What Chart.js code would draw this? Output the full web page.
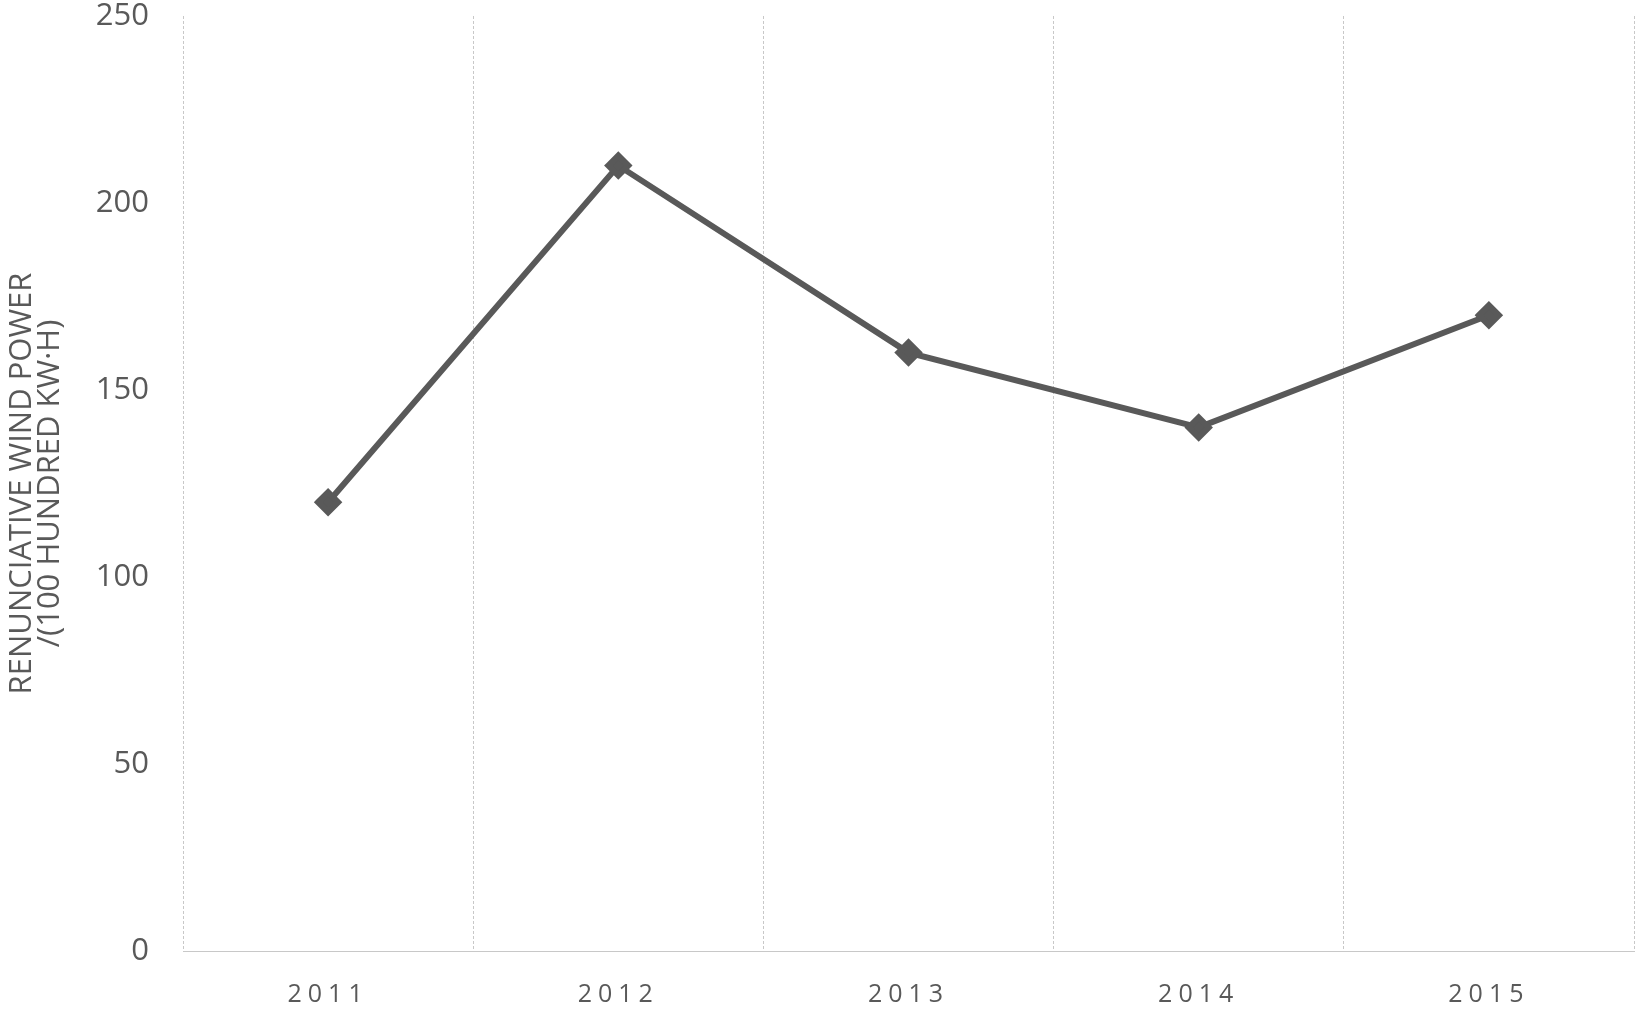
<!DOCTYPE html>
<html>
<head>
<meta charset="utf-8">
<script src="https://cdn.jsdelivr.net/npm/chart.js@4.4.1/dist/chart.umd.min.js"></script>
<style>
html,body{margin:0;padding:0;background:#fff;}
#wrap{width:1650px;height:1009px;position:relative;}
</style>
</head>
<body>
<div id="wrap"><canvas id="c" width="1650" height="1009"></canvas></div>
<script>
const categories = ["2011", "2012", "2013", "2014", "2015"];
const renunciativeWindPower = [120, 210, 160, 140, 170];
const yTicks = [0, 50, 100, 150, 200, 250];
const yTitle = ["RENUNCIATIVE WIND POWER", "/(100 HUNDRED KW\u00B7H)"];

const letterSpacingPlugin = {
  id: 'xLetterSpacing',
  afterLayout(chart) {
    const s = chart.scales.x;
    if (s && !s._patched) {
      const orig = s.drawLabels.bind(s);
      s.drawLabels = function(area) {
        const ctx = this.ctx;
        ctx.save();
        ctx.letterSpacing = '6px';
        orig(area);
        ctx.restore();
      };
      s._patched = true;
    }
  }
};

new Chart(document.getElementById('c'), {
  type: 'line',
  data: {
    labels: categories,
    datasets: [{
      data: renunciativeWindPower,
      borderColor: '#595959',
      backgroundColor: '#595959',
      borderWidth: 6,
      pointStyle: 'rectRot',
      pointRadius: 10,
      pointHoverRadius: 10,
      tension: 0
    }]
  },
  options: {
    responsive: false,
    animation: false,
    layout: { padding: { top: 16, right: 8, left: 0, bottom: 0 } },
    plugins: { legend: { display: false }, tooltip: { enabled: false } },
    scales: {
      x: {
        offset: true,
        grid: { display: true, offset: true, color: '#c8c8c8', lineWidth: 1, drawTicks: false },
        border: { display: true, color: '#c8c8c8', dash: [3, 2] },
        ticks: { color: '#595959', font: { family: 'Open Sans', size: 25 }, padding: 29 },
        afterFit(scale) { scale.height = 58; scale.paddingLeft = 0; scale.paddingRight = 0; }
      },
      y: {
        min: 0, max: 250,
        afterBuildTicks(scale) { scale.ticks = yTicks.map(v => ({ value: v })); },
        grid: { display: false, drawTicks: false },
        border: { display: false },
        ticks: { color: '#595959', font: { family: 'Open Sans', size: 31 }, padding: 34 },
        title: {
          display: true,
          text: yTitle,
          color: '#595959',
          font: { family: 'Open Sans', size: 31, lineHeight: 0.9 },
          padding: { top: 8, bottom: 0 }
        },
        afterFit(scale) { scale.width = 183; scale.paddingTop = 0; scale.paddingBottom = 0; }
      }
    }
  },
  plugins: [letterSpacingPlugin]
});
</script>
</body>
</html>
